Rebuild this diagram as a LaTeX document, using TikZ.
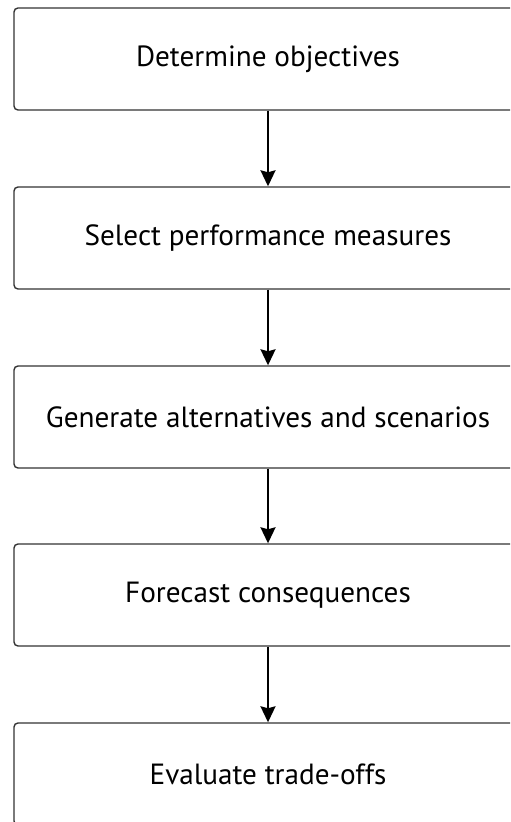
\documentclass[tikz,border=0pt]{standalone}
\usepackage{fontspec}
\setmainfont{PT Sans}
\usetikzlibrary{arrows.meta}
\begin{document}
\begin{tikzpicture}[
        x=0.5pt, y=-0.5pt,
        stage/.style={rectangle, rounded corners=2pt, draw=black!80, line width=0.7pt, minimum width=254pt, minimum height=51pt, inner sep=0pt},
        flow/.style={-{Stealth[length=8pt, width=7.5pt, inset=1pt]}, line width=1pt},
        every node/.style={font=\fontsize{14.6}{17}\selectfont}
      ]
      \useasboundingbox (0,0) rectangle (510,822);
      \clip (0,0) rectangle (510,822);
      \node[stage] (obj) at (268,59) {Determine objectives};
      \node[stage] (perf) at (268,238) {Select performance measures};
      \node[stage] (alt) at (268,417) {Generate alternatives and scenarios};
      \node[stage] (fore) at (268,595) {Forecast consequences};
      \node[stage] (eval) at (268,774) {Evaluate trade-offs};
      \draw[flow] (obj) -- (perf);
      \draw[flow] (perf) -- (alt);
      \draw[flow] (alt) -- (fore);
      \draw[flow] (fore) -- (eval);
    \end{tikzpicture}
\end{document}
